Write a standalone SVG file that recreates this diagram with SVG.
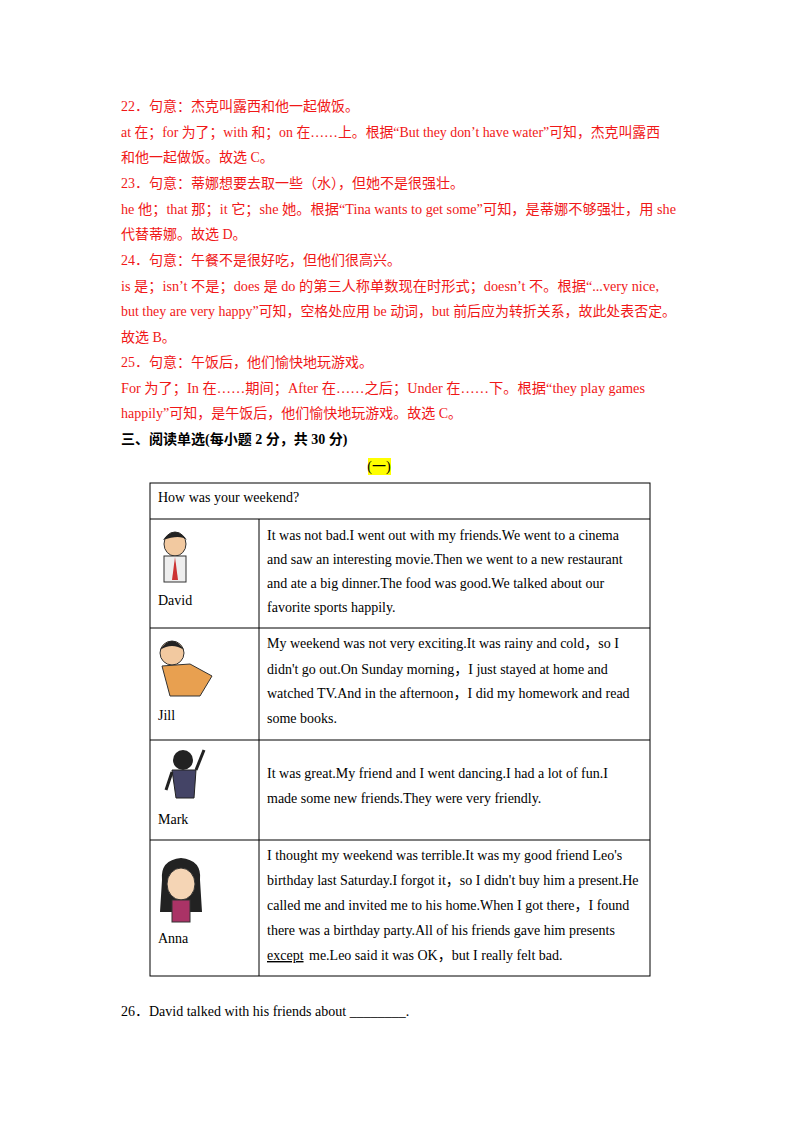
<svg xmlns="http://www.w3.org/2000/svg" width="800" height="1132" viewBox="0 0 800 1132">
<style>
text{font-family:"Liberation Serif","Noto Sans CJK SC",serif;font-size:14px;fill:#000}
.r{fill:#f01818}
.b{font-weight:bold}
.cell{fill:none;stroke:#000;stroke-width:1}
</style>
<rect width="800" height="1132" fill="#fff"/>
<g id="answers">
<text class="r" x="121" y="111">22．句意：杰克叫露西和他一起做饭。</text>
<text class="r" x="121" y="137" textLength="539" lengthAdjust="spacingAndGlyphs">at 在；for 为了；with 和；on 在……上。根据“But they don’t have water”可知，杰克叫露西</text>
<text class="r" x="121" y="162">和他一起做饭。故选 C。</text>
<text class="r" x="121" y="188">23．句意：蒂娜想要去取一些（水），但她不是很强壮。</text>
<text class="r" x="121" y="214" textLength="555" lengthAdjust="spacingAndGlyphs">he 他；that 那；it 它；she 她。根据“Tina wants to get some”可知，是蒂娜不够强壮，用 she</text>
<text class="r" x="121" y="239">代替蒂娜。故选 D。</text>
<text class="r" x="121" y="265">24．句意：午餐不是很好吃，但他们很高兴。</text>
<text class="r" x="121" y="291" textLength="538" lengthAdjust="spacingAndGlyphs">is 是；isn’t 不是；does 是 do 的第三人称单数现在时形式；doesn’t 不。根据“...very nice,</text>
<text class="r" x="121" y="316" textLength="555" lengthAdjust="spacingAndGlyphs">but they are very happy”可知，空格处应用 be 动词，but 前后应为转折关系，故此处表否定。</text>
<text class="r" x="121" y="342">故选 B。</text>
<text class="r" x="121" y="367">25．句意：午饭后，他们愉快地玩游戏。</text>
<text class="r" x="121" y="393" textLength="524" lengthAdjust="spacingAndGlyphs">For 为了；In 在……期间；After 在……之后；Under 在……下。根据“they play games</text>
<text class="r" x="121" y="418">happily”可知，是午饭后，他们愉快地玩游戏。故选 C。</text>
<text class="b" x="121" y="444">三、阅读单选(每小题 2 分，共 30 分)</text>
<rect x="368" y="458" width="23" height="17" fill="#ffff00"/>
<text x="379" y="471" text-anchor="middle">(一)</text>
</g>
<g id="table">
<rect class="cell" x="150" y="483" width="500" height="493"/>
<line class="cell" x1="150" y1="519" x2="650" y2="519"/>
<line class="cell" x1="150" y1="628" x2="650" y2="628"/>
<line class="cell" x1="150" y1="740" x2="650" y2="740"/>
<line class="cell" x1="150" y1="840" x2="650" y2="840"/>
<line class="cell" x1="259" y1="519" x2="259" y2="976"/>
<text x="158" y="502">How was your weekend?</text>
</g>
<g id="david">
<ellipse cx="175" cy="544" rx="11" ry="12" fill="#f2c9a0" stroke="#333"/>
<path d="M163 540 Q175 524 187 540 Q180 534 163 540Z" fill="#222"/>
<rect x="164" y="556" width="22" height="26" fill="#eee" stroke="#333"/>
<path d="M175 557 L172 580 L178 580Z" fill="#c33"/>
<text x="158" y="605">David</text>
<text x="267" y="540">It was not bad.I went out with my friends.We went to a cinema</text>
<text x="267" y="564">and saw an interesting movie.Then we went to a new restaurant</text>
<text x="267" y="588">and ate a big dinner.The food was good.We talked about our</text>
<text x="267" y="612">favorite sports happily.</text>
</g>
<g id="jill">
<circle cx="172" cy="653" r="12" fill="#f2c9a0" stroke="#333"/>
<path d="M160 650 Q172 632 184 650 Q172 642 160 650Z" fill="#222"/>
<path d="M162 666 L190 664 L212 676 L200 696 L170 696Z" fill="#e8a050" stroke="#333"/>
<text x="158" y="720">Jill</text>
<text x="267" y="648">My weekend was not very exciting.It was rainy and cold，so I</text>
<text x="267" y="674">didn't go out.On Sunday morning，I just stayed at home and</text>
<text x="267" y="698">watched TV.And in the afternoon，I did my homework and read</text>
<text x="267" y="723">some books.</text>
</g>
<g id="mark">
<circle cx="183" cy="760" r="10" fill="#222"/>
<path d="M172 770 L196 770 L194 798 L176 798Z" fill="#446" stroke="#222"/>
<path d="M196 770 L204 750" stroke="#222" stroke-width="3"/>
<path d="M172 772 L166 790" stroke="#222" stroke-width="3"/>
<text x="158" y="824">Mark</text>
<text x="267" y="778">It was great.My friend and I went dancing.I had a lot of fun.I</text>
<text x="267" y="803">made some new friends.They were very friendly.</text>
</g>
<g id="anna">
<path d="M162 880 Q160 860 181 858 Q202 860 200 880 L202 912 L160 912Z" fill="#222"/>
<ellipse cx="181" cy="884" rx="14" ry="16" fill="#f5d5b5" stroke="#333"/>
<rect x="172" y="900" width="18" height="22" fill="#a36" stroke="#333"/>
<text x="158" y="943">Anna</text>
<text x="267" y="860">I thought my weekend was terrible.It was my good friend Leo's</text>
<text x="267" y="885">birthday last Saturday.I forgot it，so I didn't buy him a present.He</text>
<text x="267" y="910">called me and invited me to his home.When I got there，I found</text>
<text x="267" y="935">there was a birthday party.All of his friends gave him presents</text>
<text x="267" y="960"><tspan text-decoration="underline">except</tspan><tspan x="309">me.Leo said it was OK，but I really felt bad.</tspan></text>
</g>
<text x="121" y="1016">26．David talked with his friends about ________.</text>
</svg>
